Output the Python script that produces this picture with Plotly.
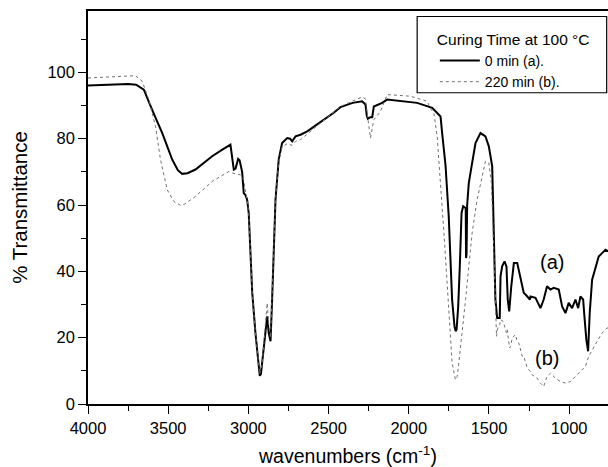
import plotly.graph_objects as go

# Sample (a): 0 min curing
wn_a = [4000, 3850, 3750, 3700, 3652, 3600, 3537, 3475, 3440, 3413, 3380, 3330, 3226, 3160, 3122, 3112,
        3091, 3080, 3064, 3055, 3039, 3029, 3018, 3008, 2998, 2987, 2976, 2956, 2945, 2935, 2929, 2922,
        2914, 2893, 2883, 2873, 2862, 2852, 2842, 2831, 2811, 2790, 2758, 2740, 2727, 2706, 2675, 2633,
        2551, 2468, 2426, 2350, 2291, 2270, 2262, 2255, 2240, 2228, 2218, 2166, 2135, 2052, 1948, 1854,
        1802, 1792, 1771, 1751, 1740, 1730, 1715, 1708, 1702, 1692, 1682, 1671, 1661, 1651, 1645, 1643,
        1640, 1636, 1626, 1605, 1584, 1553, 1522, 1501, 1480, 1470, 1460, 1449, 1433, 1428, 1418, 1403,
        1391, 1383, 1374, 1361, 1345, 1324, 1308, 1293, 1283, 1272, 1245, 1241, 1210, 1179, 1159, 1138,
        1117, 1096, 1065, 1044, 1023, 1003, 982, 961, 944, 930, 913, 905, 893, 882, 872, 857, 836, 816,
        795, 774, 755]
t_a = [96.0, 96.2, 96.5, 96.3, 94.8, 88.7, 81.7, 73.7, 70.5, 69.4, 69.6, 70.7, 74.7, 76.8, 77.9, 78.2,
       70.7, 71.0, 73.9, 73.5, 70.0, 63.6, 63.0, 61.6, 57.6, 46.5, 33.5, 21.4, 15.4, 11.0, 8.5, 9.0,
       12.4, 21.4, 26.4, 21.4, 18.9, 31.5, 46.5, 61.6, 73.7, 78.7, 80.2, 80.0, 79.2, 80.7, 81.2, 82.2,
       85.0, 87.8, 89.5, 90.8, 91.3, 90.3, 87.0, 86.0, 86.5, 86.5, 89.7, 90.8, 91.8, 91.3, 90.8, 89.3,
       86.7, 81.7, 72.0, 56.6, 41.5, 31.5, 23.4, 22.0, 22.4, 29.4, 41.5, 57.6, 59.6, 59.1, 59.0, 44.0,
       45.0, 60.0, 66.6, 72.7, 78.7, 81.7, 80.7, 77.7, 71.7, 51.6, 31.5, 25.9, 25.9, 38.5, 41.5, 43.0,
       41.5, 31.5, 27.9, 35.5, 42.5, 42.5, 39.0, 35.5, 33.5, 33.0, 31.5, 32.4, 32.0, 28.9, 31.5, 35.5,
       34.5, 35.0, 34.5, 29.4, 27.4, 30.5, 28.9, 31.5, 28.9, 32.4, 31.5, 26.4, 19.4, 15.9, 27.4, 37.5,
       41.5, 44.5, 45.5, 46.5, 46.0]

# Sample (b): 220 min curing
wn_b = [4000, 3900, 3800, 3704, 3662, 3621, 3579, 3548, 3506, 3465, 3423, 3400, 3330, 3226, 3122, 3090,
        3049, 3029, 3018, 3008, 2998, 2987, 2976, 2956, 2945, 2929, 2914, 2893, 2883, 2873, 2862, 2852,
        2842, 2831, 2811, 2790, 2758, 2727, 2706, 2675, 2551, 2426, 2291, 2270, 2255, 2239, 2218, 2177,
        2135, 1990, 1885, 1865, 1844, 1823, 1813, 1802, 1781, 1761, 1744, 1730, 1709, 1698, 1688, 1667,
        1646, 1626, 1605, 1574, 1543, 1522, 1501, 1485, 1474, 1466, 1460, 1453, 1443, 1433, 1428, 1411,
        1391, 1386, 1372, 1365, 1355, 1345, 1335, 1324, 1314, 1293, 1283, 1262, 1245, 1231, 1200, 1179,
        1159, 1138, 1117, 1086, 1055, 1023, 992, 961, 930, 899, 878, 857, 826, 795, 764, 755]
t_b = [98.3, 98.5, 98.8, 99.0, 97.3, 91.8, 83.7, 73.7, 64.6, 61.1, 59.9, 60.2, 62.6, 67.1, 70.1, 69.5,
       69.1, 67.6, 64.0, 61.6, 57.6, 46.5, 33.5, 21.4, 15.4, 9.0, 12.4, 23.0, 30.4, 24.0, 20.0, 33.0,
       47.0, 61.6, 73.0, 77.5, 78.5, 78.0, 79.2, 79.7, 84.7, 89.7, 92.6, 92.0, 86.0, 80.2, 85.7, 88.2,
       93.3, 92.8, 91.3, 89.0, 87.8, 80.7, 73.7, 66.6, 51.6, 36.5, 21.4, 12.4, 7.3, 8.3, 12.4, 21.4,
       31.5, 41.5, 51.6, 61.6, 68.6, 73.2, 72.7, 66.6, 51.6, 36.5, 25.4, 20.4, 23.4, 23.9, 25.4, 24.9,
       21.4, 22.4, 16.9, 17.4, 19.9, 20.4, 20.9, 18.9, 18.4, 14.4, 14.4, 11.0, 10.0, 8.8, 7.8, 6.3,
       5.3, 8.3, 9.3, 7.8, 6.8, 6.3, 6.8, 8.3, 9.8, 11.3, 14.4, 16.4, 18.9, 21.4, 22.9, 23.0]

x_ticks = [4000, 3500, 3000, 2500, 2000, 1500, 1000]
y_ticks = [0, 20, 40, 60, 80, 100]
legend_title = "Curing Time at 100 °C"
names = ["0 min (a).", "220 min (b)."]
labels = [("(a)", 1109, 42.9), ("(b)", 1141, 14.0)]

FONT = "Arial, Liberation Sans, Helvetica, sans-serif"

fig = go.Figure()
fig.add_trace(go.Scatter(x=wn_a, y=t_a, mode="lines", name=names[0],
                         line=dict(color="black", width=2)))
fig.add_trace(go.Scatter(x=wn_b, y=t_b, mode="lines", name=names[1],
                         line=dict(color="#707070", width=1, dash="dot")))

for txt, xx, yy in labels:
    fig.add_annotation(x=xx, y=yy, text=txt, showarrow=False,
                       font=dict(family=FONT, size=20, color="black"))

# legend frame
fig.add_shape(type="rect", xref="paper", yref="paper",
              x0=0.633, x1=0.9975, y0=0.792, y1=0.986,
              line=dict(color="black", width=1.2), fillcolor="white", layer="below")

fig.update_layout(
    width=608, height=467,
    margin=dict(l=88, r=0, t=11, b=63),
    paper_bgcolor="white", plot_bgcolor="white",
    font=dict(family=FONT, color="black"),
    showlegend=True,
    legend=dict(
        title=dict(text=legend_title, font=dict(family=FONT, size=15.5)),
        font=dict(family=FONT, size=14),
        x=0.667, xanchor="left", y=0.965, yanchor="top",
        bgcolor="rgba(0,0,0,0)", borderwidth=0,
        tracegroupgap=0, itemwidth=40,
    ),
    xaxis=dict(
        range=[4000, 758], tickvals=x_ticks, ticktext=[str(v) for v in x_ticks],
        showgrid=False, zeroline=False, showline=True, linecolor="black", linewidth=1.5,
        mirror=True, ticks="outside", ticklen=8, tickwidth=1.2, tickcolor="black",
        minor=dict(dtick=250, tick0=0, ticks="outside", ticklen=5, tickwidth=1.2, tickcolor="black"),
        tickfont=dict(family=FONT, size=16.5),
        title=dict(text="wavenumbers (cm<sup>-1</sup>)", font=dict(family=FONT, size=19.5), standoff=16),
    ),
    yaxis=dict(
        range=[0, 118.5], tickvals=y_ticks, ticktext=[str(v) for v in y_ticks],
        showgrid=False, zeroline=False, showline=True, linecolor="black", linewidth=1.5,
        mirror=False, ticks="outside", ticklen=8, tickwidth=1.2, tickcolor="black",
        minor=dict(dtick=10, tick0=0, ticks="outside", ticklen=5, tickwidth=1.2, tickcolor="black"),
        tickfont=dict(family=FONT, size=16.5),
        title=dict(text="% Transmittance", font=dict(family=FONT, size=20.5), standoff=14),
    ),
)

fig.write_html("out.html")
